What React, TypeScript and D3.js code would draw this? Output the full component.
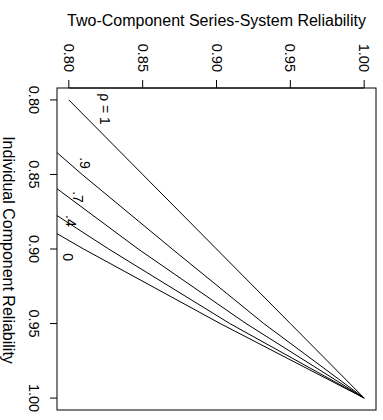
import React from "react";
import * as d3 from "d3";

// Component reliability values at which each curve is given
const componentReliability = [0.8, 0.85, 0.9, 0.95, 1.0];

// Series-system reliability for each correlation level
const systemRho1 = [0.8, 0.85, 0.9, 0.95, 1.0];
const systemRho09 = [0.751, 0.809, 0.87, 0.932, 1.0];
const systemRho07 = [0.713, 0.779, 0.847, 0.92, 1.0];
const systemRho04 = [0.676, 0.749, 0.827, 0.909, 1.0];
const systemRho0 = [0.64, 0.7225, 0.81, 0.9025, 1.0];

// Curve labels and where they sit (component, system)
const curveLabels = ["ρ = 1", ".9", ".7", ".4", "0"];
const labelComponent = [0.8061, 0.8423, 0.8651, 0.8812, 0.9054];
const labelSystem = [0.8245, 0.811, 0.8062, 0.8015, 0.7994];

const tickValues = [0.8, 0.85, 0.9, 0.95, 1.0];
const tickLabels = ["0.80", "0.85", "0.90", "0.95", "1.00"];

const W = 383;
const H = 420;
const box = { left: 57, right: 376, top: 88, bottom: 410 };
const FONT = "'Liberation Sans', Arial, Helvetica, sans-serif";

export default function App() {
  // component reliability runs down the page, system reliability across it
  const yComp = d3.scaleLinear().domain([0.792, 1.008]).range([box.top, box.bottom]);
  const xSys = d3.scaleLinear().domain([0.792, 1.008]).range([box.left, box.right]);

  const series = [systemRho1, systemRho09, systemRho07, systemRho04, systemRho0];
  const line = d3
    .line<[number, number]>()
    .x((d) => xSys(d[1]))
    .y((d) => yComp(d[0]));

  const midY = (box.top + box.bottom) / 2 + 1;

  return (
    <svg
      width={W}
      height={H}
      style={{ position: "absolute", left: 0, top: 0, background: "#fff" }}
      fontFamily={FONT}
    >
      <defs>
        <clipPath id="plotArea">
          <rect x={box.left} y={box.top} width={box.right - box.left} height={box.bottom - box.top} />
        </clipPath>
      </defs>

      {/* title across the top */}
      <text x={(box.left + box.right) / 2} y={26} textAnchor="middle" fontSize={16} fill="#000">
        Two-Component Series-System Reliability
      </text>

      {/* top axis: system reliability */}
      <line x1={xSys(0.8)} x2={xSys(1.0)} y1={box.top} y2={box.top} stroke="#000" />
      {tickValues.map((v, i) => (
        <g key={"t" + i}>
          <line x1={xSys(v)} x2={xSys(v)} y1={box.top - 8} y2={box.top} stroke="#000" />
          <text
            x={xSys(v)}
            y={72}
            transform={`rotate(90, ${xSys(v)}, 72)`}
            textAnchor="end"
            dominantBaseline="central"
            fontSize={14.5}
          >
            {tickLabels[i]}
          </text>
        </g>
      ))}

      {/* left axis: component reliability */}
      {tickValues.map((v, i) => (
        <g key={"l" + i}>
          <line x1={box.left - 7} x2={box.left} y1={yComp(v)} y2={yComp(v)} stroke="#000" />
          <text
            x={34}
            y={yComp(v)}
            transform={`rotate(90, 34, ${yComp(v)})`}
            textAnchor="middle"
            dominantBaseline="central"
            fontSize={14.5}
          >
            {tickLabels[i]}
          </text>
        </g>
      ))}
      <text
        x={8}
        y={midY}
        transform={`rotate(90, 8, ${midY})`}
        textAnchor="middle"
        dominantBaseline="central"
        fontSize={16}
      >
        Individual Component Reliability
      </text>

      {/* curves */}
      <g clipPath="url(#plotArea)">
        {series.map((s, i) => (
          <path
            key={"c" + i}
            d={line(componentReliability.map((c, j) => [c, s[j]] as [number, number])) || ""}
            fill="none"
            stroke="#000"
            strokeWidth={1}
          />
        ))}
      </g>

      {curveLabels.map((lab, i) => {
        const x = xSys(labelSystem[i]);
        const y = yComp(labelComponent[i]);
        return (
          <text
            key={"lab" + i}
            x={x}
            y={y}
            transform={`rotate(90, ${x}, ${y})`}
            textAnchor="middle"
            dominantBaseline="central"
            fontSize={14}
          >
            {lab}
          </text>
        );
      })}

      {/* frame */}
      <rect
        x={box.left}
        y={box.top}
        width={box.right - box.left}
        height={box.bottom - box.top}
        fill="none"
        stroke="#000"
        strokeWidth={1}
      />
    </svg>
  );
}
